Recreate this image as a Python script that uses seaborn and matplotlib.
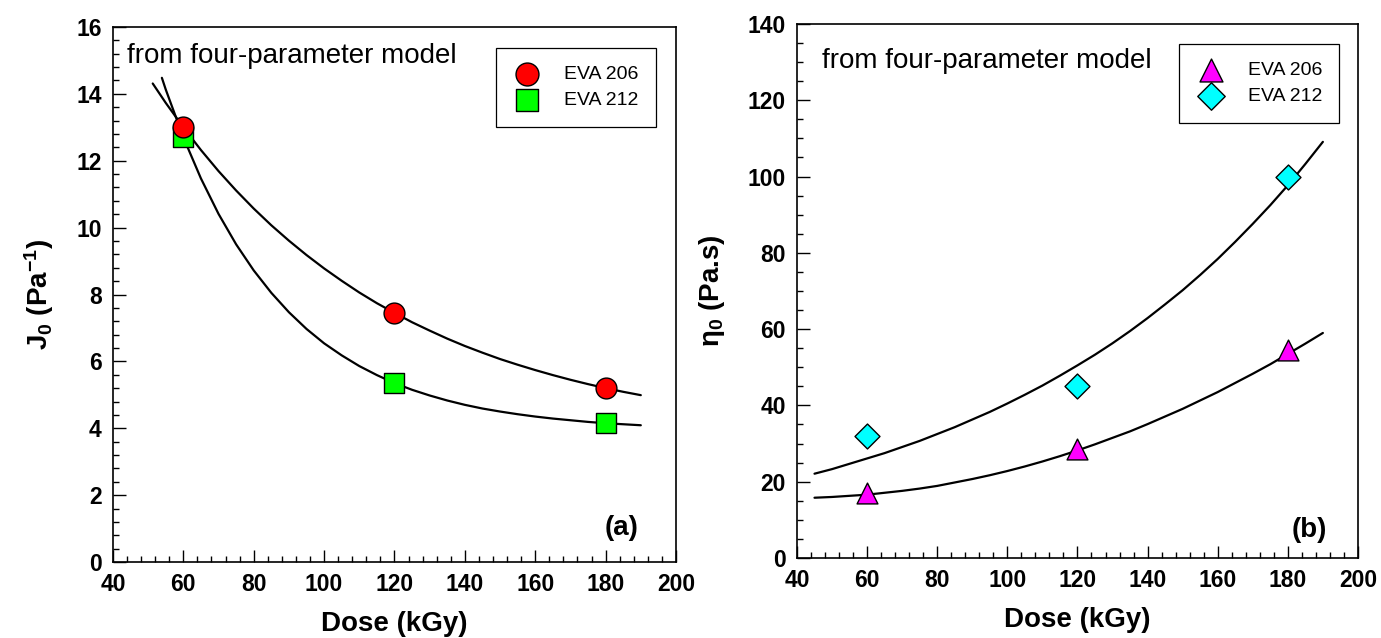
import numpy as np
import pandas as pd
import matplotlib
matplotlib.use("Agg")
import matplotlib.pyplot as plt
from matplotlib.ticker import MultipleLocator
import seaborn as sns

# ---------------- data ----------------
dose = [60, 120, 180]
j0_eva206 = [13.0, 7.45, 5.2]
j0_eva212 = [12.7, 5.35, 4.15]
eta_eva206 = [17.0, 28.5, 54.5]
eta_eva212 = [32.0, 45.0, 100.0]

# fitted curves
fit_a206_x = [51.3, 55, 60, 65, 70, 75, 80, 85, 90, 95, 100, 105, 110, 115, 120, 125, 130,
              135, 140, 145, 150, 155, 160, 165, 170, 175, 180, 185, 190]
fit_a206_y = [14.31, 13.73, 13.00, 12.32, 11.69, 11.11, 10.57, 10.07, 9.61, 9.18, 8.78, 8.41,
              8.06, 7.74, 7.45, 7.17, 6.92, 6.68, 6.46, 6.26, 6.07, 5.90, 5.74, 5.59, 5.45,
              5.32, 5.20, 5.09, 4.99]
fit_a212_x = [53.9, 55, 60, 65, 70, 75, 80, 85, 90, 95, 100, 105, 110, 115, 120, 125, 130,
              135, 140, 145, 150, 155, 160, 165, 170, 175, 180, 185, 190]
fit_a212_y = [14.48, 14.13, 12.70, 11.47, 10.41, 9.50, 8.72, 8.05, 7.47, 6.97, 6.54, 6.18,
              5.86, 5.59, 5.35, 5.15, 4.98, 4.83, 4.70, 4.59, 4.50, 4.42, 4.35, 4.29, 4.24,
              4.19, 4.15, 4.12, 4.09]
fit_b_x = [45, 50, 55, 60, 65, 70, 75, 80, 85, 90, 95, 100, 105, 110, 115, 120, 125, 130,
           135, 140, 145, 150, 155, 160, 165, 170, 175, 180, 185, 190]
fit_b206_y = [15.8, 16.0, 16.3, 16.6, 17.1, 17.6, 18.2, 18.9, 19.8, 20.7, 21.7, 22.8, 24.0,
              25.3, 26.7, 28.2, 29.8, 31.5, 33.2, 35.1, 37.1, 39.1, 41.3, 43.5, 45.9, 48.3,
              50.8, 53.5, 56.2, 59.0]
fit_b212_y = [22.1, 23.3, 24.7, 26.1, 27.5, 29.1, 30.7, 32.5, 34.3, 36.3, 38.3, 40.5, 42.8,
              45.2, 47.8, 50.5, 53.3, 56.3, 59.5, 62.9, 66.5, 70.2, 74.2, 78.4, 82.9, 87.6,
              92.5, 97.7, 103.3, 109.1]

x_ticks = [40, 60, 80, 100, 120, 140, 160, 180, 200]
labels = ["EVA 206", "EVA 212"]

# ---------------- style ----------------
sns.set_style("white")
plt.rcParams["font.family"] = ["Liberation Sans", "DejaVu Sans"]
plt.rcParams["mathtext.fontset"] = "custom"
plt.rcParams["mathtext.rm"] = "Liberation Sans:bold"
plt.rcParams["mathtext.it"] = "Liberation Sans:bold"
plt.rcParams["mathtext.bf"] = "Liberation Sans:bold"
plt.rcParams["mathtext.default"] = "rm"
for key in ["text.color", "axes.labelcolor", "xtick.color", "ytick.color",
            "axes.edgecolor"]:
    plt.rcParams[key] = "black"

fig = plt.figure(figsize=(13.81, 6.38), dpi=100)
axA = fig.add_axes([0.0818, 0.1191, 0.4077, 0.8386])
axB = fig.add_axes([0.5771, 0.1254, 0.4062, 0.8370])

LINE_KW = dict(color="black", linewidth=1.6, sort=False, estimator=None, legend=False)
LEG_KW = dict(loc="upper right", fontsize=14, frameon=True, fancybox=False, framealpha=1,
              edgecolor="black", borderpad=0.9, handletextpad=1.2, labelspacing=0.45,
              borderaxespad=0, handlelength=1.4, markerscale=1.1)


def style_axis(ax, ymax, ymajor, yminor):
    ax.set_xlim(40, 200)
    ax.set_ylim(0, ymax)
    ax.set_xticks(x_ticks)
    ax.yaxis.set_major_locator(MultipleLocator(ymajor))
    ax.yaxis.set_minor_locator(MultipleLocator(yminor))
    ax.xaxis.set_minor_locator(MultipleLocator(4))
    ax.tick_params(which="both", direction="in", top=False, right=False,
                   bottom=True, left=True, color="black", labelcolor="black", width=1.0)
    ax.tick_params(which="major", length=9, labelsize=16.5, pad=8)
    ax.tick_params(which="minor", length=4.5)
    for lab in ax.get_xticklabels() + ax.get_yticklabels():
        lab.set_fontweight("bold")
    for s in ax.spines.values():
        s.set_color("black")
        s.set_linewidth(1.2)
        s.set_visible(True)
    ax.set_xlabel("Dose (kGy)", fontsize=20, fontweight="bold", labelpad=11,
                  color="black")


# ---------------- panel (a) ----------------
sns.lineplot(x=fit_a206_x, y=fit_a206_y, ax=axA, **LINE_KW)
sns.lineplot(x=fit_a212_x, y=fit_a212_y, ax=axA, **LINE_KW)
sns.scatterplot(x=dose, y=j0_eva212, ax=axA, marker="s", s=14 ** 2, color="#00FF00",
                edgecolor="black", linewidth=1.0, label=labels[1], zorder=3)
sns.scatterplot(x=dose, y=j0_eva206, ax=axA, marker="o", s=15 ** 2, color="#FF0000",
                edgecolor="black", linewidth=1.0, label=labels[0], zorder=4)
style_axis(axA, 16, 2, 0.4)
axA.set_ylabel("J$_0$ (Pa$^{-1}$)", fontsize=20, fontweight="bold", labelpad=15,
               color="black")
axA.text(0.025, 0.933, "from four-parameter model", transform=axA.transAxes,
         fontsize=20, ha="left", va="baseline", color="black")
axA.text(0.934, 0.05, "(a)", transform=axA.transAxes, fontsize=20, fontweight="bold",
         ha="right", va="baseline", color="black")
h, l = axA.get_legend_handles_labels()
order = [l.index(labels[0]), l.index(labels[1])]
legA = axA.legend([h[i] for i in order], [l[i] for i in order],
                  bbox_to_anchor=(0.9645, 0.961), **LEG_KW)
legA.get_frame().set_linewidth(0.9)

# ---------------- panel (b) ----------------
sns.lineplot(x=fit_b_x, y=fit_b206_y, ax=axB, **LINE_KW)
sns.lineplot(x=fit_b_x, y=fit_b212_y, ax=axB, **LINE_KW)
sns.scatterplot(x=dose, y=eta_eva206, ax=axB, marker="^", s=15 ** 2, color="#FF00FF",
                edgecolor="black", linewidth=1.0, label=labels[0], zorder=3)
sns.scatterplot(x=dose, y=eta_eva212, ax=axB, marker="D", s=12.7 ** 2, color="#00FFFF",
                edgecolor="black", linewidth=1.0, label=labels[1], zorder=3)
style_axis(axB, 140, 20, 5)
axB.set_ylabel("η$_0$ (Pa.s)", fontsize=20, fontweight="bold", labelpad=15,
               color="black")
axB.text(0.045, 0.918, "from four-parameter model", transform=axB.transAxes,
         fontsize=20, ha="left", va="baseline", color="black")
axB.text(0.945, 0.04, "(b)", transform=axB.transAxes, fontsize=20, fontweight="bold",
         ha="right", va="baseline", color="black")
legB = axB.legend(bbox_to_anchor=(0.967, 0.963), **LEG_KW)
legB.get_frame().set_linewidth(0.9)

fig.savefig("out.png", dpi=100, facecolor="white")
